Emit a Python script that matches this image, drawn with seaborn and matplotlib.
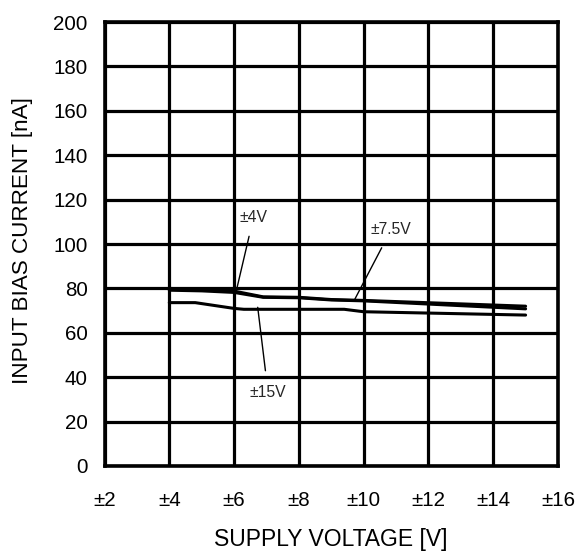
import matplotlib
matplotlib.use("Agg")
import matplotlib.pyplot as plt
import seaborn as sns
import pandas as pd

# Data
v_4 = [4.0, 5.0, 6.0, 6.9, 8.0, 9.0, 10.0, 15.0]
i_4 = [80.0, 79.6, 78.8, 76.2, 76.0, 75.0, 74.6, 72.0]
v_75 = [4.0, 5.0, 6.0, 6.9, 8.0, 9.0, 10.0, 15.0]
i_75 = [79.2, 78.9, 78.2, 76.0, 75.8, 74.8, 74.4, 70.8]
v_15 = [4.0, 4.8, 6.0, 6.3, 9.4, 10.0, 15.0]
i_15 = [73.6, 73.6, 71.0, 70.6, 70.6, 69.5, 68.0]

x_ticks = [2, 4, 6, 8, 10, 12, 14, 16]
x_tick_labels = ["±2", "±4", "±6", "±8", "±10", "±12", "±14", "±16"]
y_ticks = [0, 20, 40, 60, 80, 100, 120, 140, 160, 180, 200]

curve_labels = ["±4V", "±7.5V", "±15V"]

df = pd.concat([
    pd.DataFrame({"v": v_4, "i": i_4, "curve": curve_labels[0]}),
    pd.DataFrame({"v": v_75, "i": i_75, "curve": curve_labels[1]}),
    pd.DataFrame({"v": v_15, "i": i_15, "curve": curve_labels[2]}),
])

sns.set_theme(style="white")
plt.rcParams["font.family"] = ["Liberation Sans", "DejaVu Sans"]

fig = plt.figure(figsize=(5.79, 5.52), dpi=100)
ax = fig.add_axes([0.1805, 0.1558, 0.9637 - 0.1805, 0.960 - 0.1558])

sns.lineplot(data=df, x="v", y="i", hue="curve", units="curve", estimator=None,
             palette=["black", "black", "black"], linewidth=2.2, legend=False,
             sort=False, ax=ax)

ax.set_xlim(2, 16)
ax.set_ylim(0, 200)
ax.set_xticks(x_ticks)
ax.set_xticklabels(x_tick_labels)
ax.set_yticks(y_ticks)
ax.grid(True, color="black", linewidth=2.3)
ax.set_axisbelow(True)
for s in ax.spines.values():
    s.set_color("black")
    s.set_linewidth(2.6)
ax.tick_params(axis="x", length=0, pad=18, labelsize=14.8, colors="black")
ax.tick_params(axis="y", length=0, pad=12, labelsize=14.8, colors="black")
ax.set_xlabel("SUPPLY VOLTAGE [V]", fontsize=16.5, labelpad=13, color="black")
ax.set_ylabel("INPUT BIAS CURRENT [nA]", fontsize=16.2, color="black")
ax.yaxis.set_label_coords(-0.158, 0.508)

# Annotations
ax.annotate(curve_labels[0], xy=(6.07, 79), xytext=(6.6, 112), fontsize=11.3,
            ha="center", va="center",
            arrowprops=dict(arrowstyle="-", color="black", lw=1,
                            shrinkA=6, shrinkB=0))
ax.annotate(curve_labels[1], xy=(9.73, 75.2), xytext=(10.85, 106.5), fontsize=11.3,
            ha="center", va="center",
            arrowprops=dict(arrowstyle="-", color="black", lw=1,
                            shrinkA=6, shrinkB=0))
ax.annotate(curve_labels[2], xy=(6.73, 71.5), xytext=(7.05, 33.1), fontsize=11.3,
            ha="center", va="center",
            arrowprops=dict(arrowstyle="-", color="black", lw=1,
                            shrinkA=8, shrinkB=0))

fig.savefig("out.png", dpi=100, facecolor="white")
